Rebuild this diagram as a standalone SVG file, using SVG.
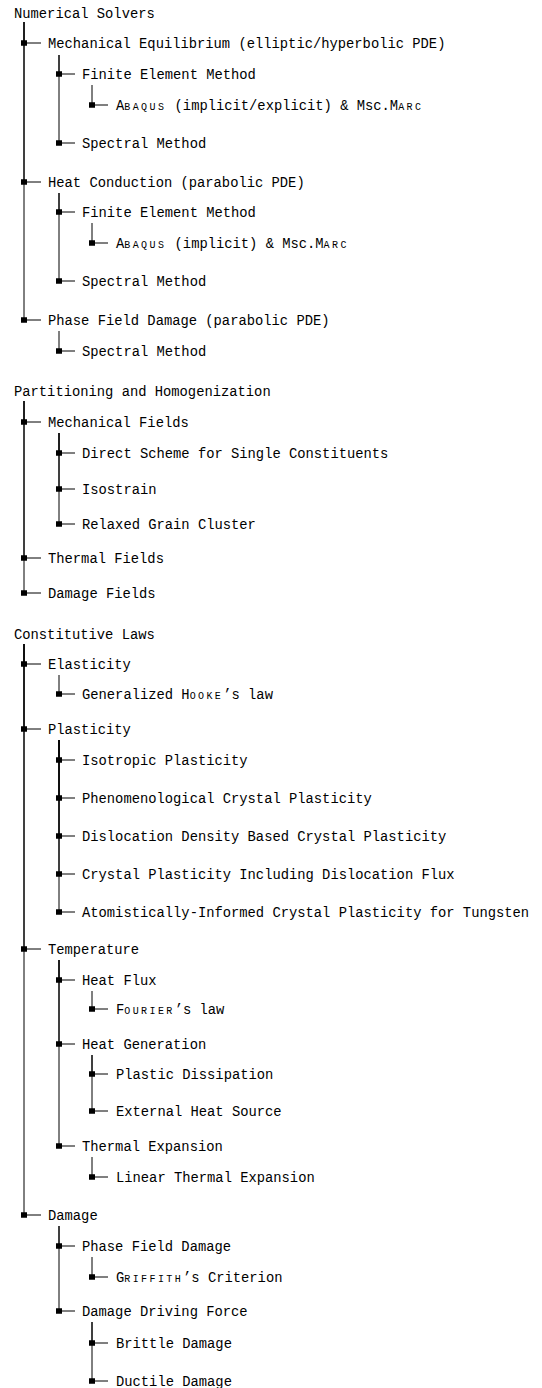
<svg xmlns="http://www.w3.org/2000/svg" width="542" height="1388" viewBox="0 0 542 1388">
<style>
text{font-family:"Liberation Mono","DejaVu Sans Mono",monospace;font-size:13.8px;fill:#000}
.sc{font-variant:small-caps;letter-spacing:2.4px}
.e{fill:none;stroke:#000;stroke-width:1}
.s{fill:#000}
</style>
<defs>
<rect id="sq" x="-3" y="-2.75" width="6" height="5.5"/>
</defs>
<rect width="542" height="1388" fill="#fff"/>
<g id="connectors">
<path class="e" d="M24,22 V43 H41"/>
<path class="e" d="M24,22 V182 H41"/>
<path class="e" d="M24,22 V320 H41"/>
<path class="e" d="M59,55 V74 H75"/>
<path class="e" d="M59,55 V143 H75"/>
<path class="e" d="M92,85 V105 H108"/>
<path class="e" d="M59,193 V212 H75"/>
<path class="e" d="M59,193 V281 H75"/>
<path class="e" d="M92,223 V243 H108"/>
<path class="e" d="M59,331 V351 H75"/>
<path class="e" d="M24,401 V422 H41"/>
<path class="e" d="M24,401 V558 H41"/>
<path class="e" d="M24,401 V593 H41"/>
<path class="e" d="M59,433 V453 H75"/>
<path class="e" d="M59,433 V489 H75"/>
<path class="e" d="M59,433 V524 H75"/>
<path class="e" d="M24,644 V664 H41"/>
<path class="e" d="M24,644 V729 H41"/>
<path class="e" d="M24,644 V949 H41"/>
<path class="e" d="M24,644 V1215 H41"/>
<path class="e" d="M59,675 V694 H75"/>
<path class="e" d="M59,740 V760 H75"/>
<path class="e" d="M59,740 V798 H75"/>
<path class="e" d="M59,740 V836 H75"/>
<path class="e" d="M59,740 V874 H75"/>
<path class="e" d="M59,740 V912 H75"/>
<path class="e" d="M59,960 V980 H75"/>
<path class="e" d="M59,960 V1044 H75"/>
<path class="e" d="M59,960 V1146 H75"/>
<path class="e" d="M92,991 V1009 H108"/>
<path class="e" d="M92,1055 V1074 H108"/>
<path class="e" d="M92,1055 V1111 H108"/>
<path class="e" d="M92,1157 V1177 H108"/>
<path class="e" d="M59,1226 V1246 H75"/>
<path class="e" d="M59,1226 V1311 H75"/>
<path class="e" d="M92,1257 V1277 H108"/>
<path class="e" d="M92,1322 V1343 H108"/>
<path class="e" d="M92,1322 V1381 H108"/>
<g class="s">
<use href="#sq" x="24" y="43"/><use href="#sq" x="24" y="182"/><use href="#sq" x="24" y="320"/>
<use href="#sq" x="59" y="74"/><use href="#sq" x="59" y="143"/><use href="#sq" x="92" y="105"/>
<use href="#sq" x="59" y="212"/><use href="#sq" x="59" y="281"/><use href="#sq" x="92" y="243"/>
<use href="#sq" x="59" y="351"/>
<use href="#sq" x="24" y="422"/><use href="#sq" x="24" y="558"/><use href="#sq" x="24" y="593"/>
<use href="#sq" x="59" y="453"/><use href="#sq" x="59" y="489"/><use href="#sq" x="59" y="524"/>
<use href="#sq" x="24" y="664"/><use href="#sq" x="24" y="729"/><use href="#sq" x="24" y="949"/><use href="#sq" x="24" y="1215"/>
<use href="#sq" x="59" y="694"/>
<use href="#sq" x="59" y="760"/><use href="#sq" x="59" y="798"/><use href="#sq" x="59" y="836"/><use href="#sq" x="59" y="874"/><use href="#sq" x="59" y="912"/>
<use href="#sq" x="59" y="980"/><use href="#sq" x="59" y="1044"/><use href="#sq" x="59" y="1146"/>
<use href="#sq" x="92" y="1009"/><use href="#sq" x="92" y="1074"/><use href="#sq" x="92" y="1111"/><use href="#sq" x="92" y="1177"/>
<use href="#sq" x="59" y="1246"/><use href="#sq" x="59" y="1311"/>
<use href="#sq" x="92" y="1277"/><use href="#sq" x="92" y="1343"/><use href="#sq" x="92" y="1381"/>
</g>
</g>
<g id="n-numerical-solvers"><text x="14" y="17.5">Numerical Solvers</text></g>
<g id="n-mech-eq"><text x="48" y="47.5">Mechanical Equilibrium (elliptic/hyperbolic PDE)</text></g>
<g id="n-fem1"><text x="82" y="78.5">Finite Element Method</text></g>
<g id="n-abaqus1"><text x="116" y="109.5">A<tspan class="sc">baqus</tspan> (implicit/explicit) &amp; Msc.M<tspan class="sc">arc</tspan></text></g>
<g id="n-spectral1"><text x="82" y="147.5">Spectral Method</text></g>
<g id="n-heat-cond"><text x="48" y="186.5">Heat Conduction (parabolic PDE)</text></g>
<g id="n-fem2"><text x="82" y="216.5">Finite Element Method</text></g>
<g id="n-abaqus2"><text x="116" y="247.5">A<tspan class="sc">baqus</tspan> (implicit) &amp; Msc.M<tspan class="sc">arc</tspan></text></g>
<g id="n-spectral2"><text x="82" y="285.5">Spectral Method</text></g>
<g id="n-pfd"><text x="48" y="324.5">Phase Field Damage (parabolic PDE)</text></g>
<g id="n-spectral3"><text x="82" y="355.5">Spectral Method</text></g>
<g id="n-partitioning"><text x="14" y="395.5">Partitioning and Homogenization</text></g>
<g id="n-mech-fields"><text x="48" y="426.5">Mechanical Fields</text></g>
<g id="n-direct"><text x="82" y="457.5">Direct Scheme for Single Constituents</text></g>
<g id="n-isostrain"><text x="82" y="493.5">Isostrain</text></g>
<g id="n-rgc"><text x="82" y="528.5">Relaxed Grain Cluster</text></g>
<g id="n-thermal-fields"><text x="48" y="562.5">Thermal Fields</text></g>
<g id="n-damage-fields"><text x="48" y="597.5">Damage Fields</text></g>
<g id="n-constitutive"><text x="14" y="638.5">Constitutive Laws</text></g>
<g id="n-elasticity"><text x="48" y="668.5">Elasticity</text></g>
<g id="n-hooke"><text x="82" y="698.5">Generalized H<tspan class="sc">ooke</tspan>’s law</text></g>
<g id="n-plasticity"><text x="48" y="733.5">Plasticity</text></g>
<g id="n-iso-plast"><text x="82" y="764.5">Isotropic Plasticity</text></g>
<g id="n-phenom"><text x="82" y="802.5">Phenomenological Crystal Plasticity</text></g>
<g id="n-disloc"><text x="82" y="840.5">Dislocation Density Based Crystal Plasticity</text></g>
<g id="n-flux"><text x="82" y="878.5">Crystal Plasticity Including Dislocation Flux</text></g>
<g id="n-tungsten"><text x="82" y="916.5">Atomistically-Informed Crystal Plasticity for Tungsten</text></g>
<g id="n-temperature"><text x="48" y="953.5">Temperature</text></g>
<g id="n-heat-flux"><text x="82" y="984.5">Heat Flux</text></g>
<g id="n-fourier"><text x="116" y="1013.5">F<tspan class="sc">ourier</tspan>’s law</text></g>
<g id="n-heat-gen"><text x="82" y="1048.5">Heat Generation</text></g>
<g id="n-plastic-diss"><text x="116" y="1078.5">Plastic Dissipation</text></g>
<g id="n-ext-heat"><text x="116" y="1115.5">External Heat Source</text></g>
<g id="n-therm-exp"><text x="82" y="1150.5">Thermal Expansion</text></g>
<g id="n-lin-therm"><text x="116" y="1181.5">Linear Thermal Expansion</text></g>
<g id="n-damage"><text x="48" y="1219.5">Damage</text></g>
<g id="n-pfd2"><text x="82" y="1250.5">Phase Field Damage</text></g>
<g id="n-griffith"><text x="116" y="1281.5">G<tspan class="sc">riffith</tspan>’s Criterion</text></g>
<g id="n-ddf"><text x="82" y="1315.5">Damage Driving Force</text></g>
<g id="n-brittle"><text x="116" y="1347.5">Brittle Damage</text></g>
<g id="n-ductile"><text x="116" y="1385.5">Ductile Damage</text></g>
</svg>
